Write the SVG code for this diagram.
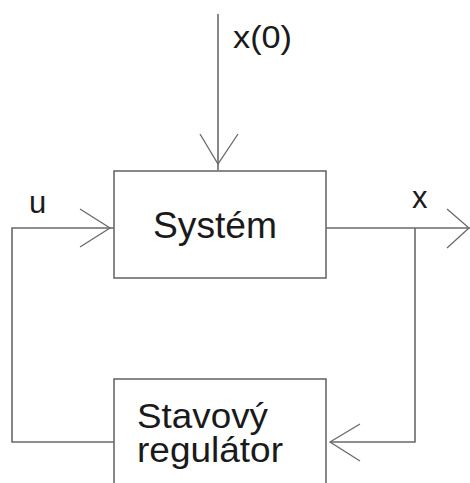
<svg xmlns="http://www.w3.org/2000/svg" width="470" height="483" viewBox="0 0 470 483">
<style>
.ln{fill:none;stroke:#6a6a6a;stroke-width:1.6}
.bx{fill:#fff;stroke:#6a6a6a;stroke-width:1.6}
.ar{fill:none;stroke:#6a6a6a;stroke-width:1.3}
text{font-family:"Liberation Sans",Arial,sans-serif;fill:#1a1a1a}
</style>
<rect width="470" height="483" fill="#fff"/>
<g id="connectors">
<line class="ln" x1="218" y1="14" x2="218" y2="170"/>
<polyline class="ar" points="200,134 218,164 238,134"/>
<polyline class="ln" points="114,442 12,442 12,228 114,228"/>
<polyline class="ar" points="80,209 110,228 80,247"/>
<line class="ln" x1="326" y1="228" x2="470" y2="228"/>
<polyline class="ar" points="447,209 469,228 447,248"/>
<polyline class="ln" points="415,228 415,442 330,442"/>
<polyline class="ar" points="360,424 330,442 360,461"/>
</g>
<g id="labels">
<text x="233" y="48" font-size="31" textLength="59" lengthAdjust="spacingAndGlyphs">x(0)</text>
<text x="29" y="213" font-size="31">u</text>
<text x="412" y="208" font-size="31">x</text>
</g>
<g id="system">
<rect class="bx" x="114" y="171" width="212" height="107"/>
<text x="153" y="238" font-size="36" textLength="124" lengthAdjust="spacingAndGlyphs">Systém</text>
</g>
<g id="regulator">
<rect class="bx" x="114" y="379" width="212" height="110"/>
<text font-size="35"><tspan x="137" y="428" textLength="131" lengthAdjust="spacingAndGlyphs">Stavový</tspan><tspan x="137" y="462" textLength="146" lengthAdjust="spacingAndGlyphs">regulátor</tspan></text>
</g>
</svg>
